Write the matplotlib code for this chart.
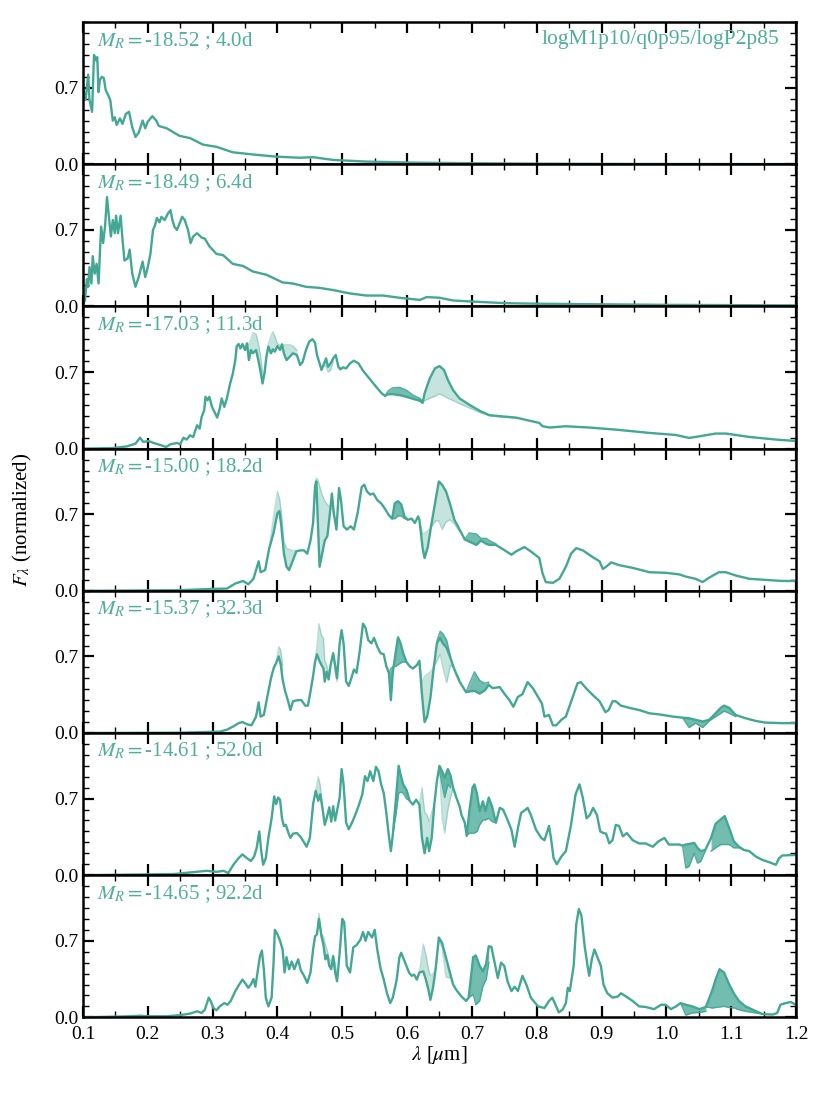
import numpy as np
import matplotlib
matplotlib.use("Agg")
import matplotlib.pyplot as plt
from matplotlib.ticker import MultipleLocator, FormatStrFormatter

plt.rcParams['font.family'] = ['Liberation Serif', 'DejaVu Serif']
plt.rcParams['mathtext.fontset'] = 'stix'

# labels of the seven epochs
mags = ['-18.52', '-18.49', '-17.03', '-15.00', '-15.37', '-14.61', '-14.65']
days = ['4.0', '6.4', '11.3', '18.2', '32.3', '52.0', '92.2']
model_name = 'logM1p10/q0p95/logP2p85'

# main spectra (wavelength in micron, normalized flux)
wl1 = [0.100, 0.104, 0.108, 0.110, 0.114, 0.117, 0.120, 0.122, 0.124, 0.126, 0.129, 0.132, 0.135, 0.139,
       0.142, 0.146, 0.149, 0.152, 0.157, 0.161, 0.166, 0.171, 0.176, 0.181, 0.186, 0.192, 0.196, 0.200,
       0.207, 0.213, 0.217, 0.229, 0.249, 0.265, 0.285, 0.306, 0.331, 0.362, 0.398, 0.434, 0.455, 0.486,
       0.537, 0.614, 0.700, 0.800, 0.900, 1.000, 1.200]
fl1 = [0.69, 0.59, 0.82, 0.59, 0.48, 1.00, 0.95, 0.98, 0.66, 0.77, 0.80, 0.79, 0.68, 0.63,
       0.59, 0.40, 0.43, 0.36, 0.42, 0.37, 0.46, 0.48, 0.34, 0.25, 0.29, 0.40, 0.33, 0.39,
       0.44, 0.40, 0.35, 0.33, 0.26, 0.24, 0.18, 0.16, 0.11, 0.09, 0.07, 0.06, 0.065, 0.04,
       0.025, 0.015, 0.01, 0.006, 0.004, 0.003, 0.002]

wl2 = [0.100, 0.103, 0.106, 0.108, 0.110, 0.113, 0.115, 0.118, 0.121, 0.124, 0.126, 0.128, 0.131, 0.134,
       0.137, 0.140, 0.143, 0.146, 0.149, 0.151, 0.154, 0.158, 0.161, 0.164, 0.169, 0.172, 0.176, 0.181,
       0.186, 0.192, 0.196, 0.200, 0.204, 0.208, 0.211, 0.214, 0.218, 0.221, 0.226, 0.231, 0.235, 0.238,
       0.241, 0.245, 0.249, 0.253, 0.257, 0.262, 0.266, 0.270, 0.276, 0.283, 0.288, 0.295, 0.306, 0.316,
       0.331, 0.347, 0.362, 0.383, 0.408, 0.424, 0.444, 0.465, 0.486, 0.511, 0.537, 0.563, 0.588, 0.620,
       0.630, 0.650, 0.671, 0.701, 0.752, 0.803, 0.896, 0.999, 1.200]
fl2 = [0.02, 0.055, 0.25, 0.18, 0.36, 0.21, 0.46, 0.30, 0.39, 0.21, 0.48, 0.73, 0.58, 0.73,
       1.00, 0.82, 0.64, 0.79, 0.67, 0.83, 0.67, 0.83, 0.61, 0.42, 0.44, 0.52, 0.30, 0.18,
       0.27, 0.41, 0.27, 0.36, 0.48, 0.70, 0.74, 0.81, 0.77, 0.82, 0.79, 0.85, 0.88, 0.79,
       0.73, 0.70, 0.76, 0.82, 0.79, 0.70, 0.58, 0.64, 0.67, 0.63, 0.62, 0.55, 0.48, 0.47,
       0.39, 0.37, 0.32, 0.29, 0.22, 0.21, 0.18, 0.17, 0.15, 0.12, 0.10, 0.10, 0.08, 0.06,
       0.086, 0.08, 0.055, 0.045, 0.03, 0.025, 0.02, 0.015, 0.01]

wl3 = [0.100, 0.147, 0.168, 0.181, 0.188, 0.193, 0.201, 0.209, 0.219, 0.228, 0.235, 0.245, 0.250, 0.255,
       0.260, 0.265, 0.270, 0.276, 0.280, 0.283, 0.287, 0.289, 0.292, 0.295, 0.299, 0.304, 0.307, 0.311,
       0.314, 0.318, 0.322, 0.327, 0.331, 0.335, 0.337, 0.340, 0.343, 0.346, 0.350, 0.353, 0.356, 0.359,
       0.362, 0.367, 0.371, 0.374, 0.377, 0.380, 0.383, 0.386, 0.390, 0.393, 0.396, 0.400, 0.404, 0.407,
       0.410, 0.414, 0.419, 0.424, 0.430, 0.435, 0.439, 0.444, 0.449, 0.454, 0.458, 0.461, 0.465, 0.468,
       0.471, 0.475, 0.478, 0.482, 0.486, 0.490, 0.494, 0.497, 0.501, 0.506, 0.512, 0.518, 0.525, 0.532,
       0.543, 0.553, 0.561, 0.566, 0.571, 0.578, 0.589, 0.599, 0.609, 0.620, 0.624, 0.627, 0.635, 0.643,
       0.650, 0.657, 0.663, 0.671, 0.681, 0.697, 0.712, 0.727, 0.743,
       0.768, 0.804, 0.809, 0.820, 0.845, 0.881, 0.922, 0.974, 1.015, 1.035, 1.045, 1.076, 1.092, 1.128,
       1.169, 1.200]
fl3 = [0.0, 0.006, 0.021, 0.046, 0.10, 0.061, 0.07, 0.052, 0.034, 0.015, 0.04, 0.052, 0.04, 0.10,
       0.083, 0.122, 0.107, 0.214, 0.183, 0.29, 0.352, 0.474, 0.443, 0.474, 0.382, 0.321, 0.284, 0.367,
       0.459, 0.382, 0.459, 0.596, 0.682, 0.81, 0.933, 0.957, 0.917, 0.957, 0.902, 0.963, 0.81, 0.902,
       0.872, 0.902, 0.795, 0.703, 0.596, 0.688, 0.841, 0.933, 0.872, 0.908, 0.887, 0.939, 0.902, 0.954,
       0.872, 0.81, 0.841, 0.872, 0.856, 0.765, 0.795, 0.902, 0.979, 1.0, 0.969, 0.856, 0.78, 0.719,
       0.765, 0.826, 0.749, 0.78, 0.826, 0.856, 0.749, 0.725, 0.743, 0.734, 0.78, 0.804, 0.78, 0.713,
       0.633, 0.56, 0.505, 0.483, 0.498, 0.498, 0.489, 0.474, 0.456, 0.437, 0.419, 0.505, 0.642, 0.734,
       0.755, 0.719, 0.627, 0.535, 0.459, 0.398, 0.346, 0.306, 0.297,
       0.284, 0.235, 0.205, 0.193, 0.205, 0.193, 0.174, 0.144, 0.125, 0.098, 0.107, 0.138, 0.138, 0.107,
       0.083, 0.07]

wl4 = [0.100, 0.250, 0.301, 0.322, 0.335, 0.347, 0.355, 0.363, 0.371, 0.374, 0.381, 0.387, 0.394, 0.400,
       0.403, 0.406, 0.410, 0.414, 0.418, 0.422, 0.429, 0.435, 0.441, 0.446, 0.451, 0.455, 0.458, 0.460,
       0.462, 0.465, 0.469, 0.473, 0.477, 0.481, 0.484, 0.487, 0.491, 0.495, 0.498, 0.502, 0.507, 0.513,
       0.518, 0.524, 0.530, 0.534, 0.538, 0.543, 0.548, 0.554, 0.560, 0.567, 0.572, 0.577, 0.581, 0.586,
       0.591, 0.596, 0.601, 0.607, 0.612, 0.617, 0.619, 0.624, 0.627, 0.632, 0.637, 0.644, 0.649, 0.654,
       0.660, 0.666, 0.673, 0.681,
       0.689, 0.696, 0.707, 0.714, 0.722, 0.727, 0.737, 0.748, 0.761, 0.768, 0.781, 0.791, 0.804, 0.809,
       0.814, 0.825, 0.835, 0.845, 0.853, 0.861, 0.871, 0.886, 0.897, 0.902, 0.907, 0.915, 0.927, 0.948,
       0.974, 0.999, 1.020, 1.030, 1.045, 1.056, 1.066, 1.081, 1.092, 1.107, 1.128, 1.153, 1.179, 1.200]
fl4 = [0.0, 0.006, 0.018, 0.02, 0.067, 0.09, 0.06, 0.11, 0.27, 0.17, 0.19, 0.38, 0.53, 0.71,
       0.73, 0.59, 0.34, 0.22, 0.19, 0.25, 0.36, 0.37, 0.37, 0.34, 0.46, 0.62, 0.95, 1.0,
       0.68, 0.22, 0.34, 0.46, 0.50, 0.71, 0.89, 0.71, 0.56, 0.94, 0.83, 0.59, 0.56, 0.59,
       0.56, 0.72, 0.95, 0.97, 0.91, 0.88, 0.89, 0.83, 0.80, 0.74, 0.69, 0.66, 0.80, 0.82,
       0.79, 0.68, 0.65, 0.66, 0.62, 0.68, 0.65, 0.39, 0.30, 0.40, 0.59, 0.83, 1.0, 0.97,
       0.91, 0.80, 0.65, 0.56,
       0.47, 0.45, 0.42, 0.46, 0.43, 0.42, 0.42, 0.38, 0.33, 0.36, 0.40, 0.36, 0.30, 0.16,
       0.08, 0.073, 0.11, 0.22, 0.34, 0.39, 0.37, 0.31, 0.27, 0.20, 0.22, 0.26, 0.235, 0.21,
       0.17, 0.165, 0.15, 0.13, 0.11, 0.08, 0.12, 0.17, 0.17, 0.14, 0.11, 0.10, 0.09, 0.09]

wl5 = [0.100, 0.250, 0.311, 0.322, 0.332, 0.340, 0.346, 0.353, 0.360, 0.367, 0.371, 0.374, 0.379, 0.384,
       0.390, 0.394, 0.398, 0.402, 0.405, 0.408, 0.412, 0.416, 0.420, 0.424, 0.431, 0.437, 0.443, 0.447,
       0.451, 0.455, 0.458, 0.461, 0.464, 0.468, 0.471, 0.473, 0.476, 0.479, 0.482, 0.486, 0.489, 0.492,
       0.496, 0.499, 0.502, 0.506, 0.510, 0.514, 0.518, 0.522, 0.527, 0.532, 0.536, 0.540, 0.545, 0.549,
       0.554, 0.559, 0.564, 0.568, 0.572, 0.575, 0.578, 0.583, 0.586, 0.590, 0.594, 0.599, 0.604, 0.609,
       0.615, 0.619, 0.623, 0.627, 0.631, 0.636, 0.641, 0.646, 0.651, 0.655, 0.661, 0.667, 0.673, 0.681,
       0.691, 0.696, 0.704, 0.712, 0.720, 0.726, 0.732, 0.743, 0.750, 0.758, 0.764, 0.771, 0.778, 0.786,
       0.794, 0.802, 0.808, 0.812, 0.819, 0.825, 0.830, 0.838, 0.845, 0.855, 0.863, 0.868, 0.876, 0.886,
       0.897, 0.906, 0.911, 0.917, 0.922, 0.930, 0.943, 0.958, 0.974, 0.989, 0.999, 1.010, 1.025, 1.035,
       1.045, 1.056, 1.066, 1.076, 1.084, 1.089, 1.097, 1.107, 1.122, 1.138, 1.153, 1.179, 1.200]
fl5 = [0.0, 0.003, 0.012, 0.03, 0.06, 0.09, 0.10, 0.08, 0.07, 0.15, 0.28, 0.15, 0.165, 0.32,
       0.50, 0.59, 0.64, 0.70, 0.63, 0.49, 0.38, 0.30, 0.21, 0.29, 0.30, 0.30, 0.25, 0.25,
       0.38, 0.52, 0.65, 0.72, 0.67, 0.62, 0.59, 0.47, 0.56, 0.49, 0.62, 0.73, 0.62, 0.50,
       0.82, 0.94, 0.82, 0.47, 0.43, 0.50, 0.58, 0.55, 0.75, 1.00, 0.96, 0.85, 0.82, 0.87,
       0.79, 0.73, 0.72, 0.61, 0.55, 0.30, 0.56, 0.76, 0.875, 0.82, 0.73, 0.65, 0.61, 0.59,
       0.62, 0.66, 0.35, 0.10, 0.15, 0.32, 0.59, 0.82, 0.87, 0.82, 0.78, 0.685, 0.58, 0.47,
       0.373, 0.38, 0.385, 0.36, 0.39, 0.44, 0.41, 0.42, 0.36, 0.30, 0.24, 0.33, 0.355, 0.465,
       0.41, 0.33, 0.27, 0.15, 0.165, 0.07, 0.07, 0.12, 0.15, 0.32, 0.455, 0.465, 0.41, 0.35,
       0.29, 0.19, 0.21, 0.29, 0.29, 0.25, 0.23, 0.21, 0.18, 0.17, 0.16, 0.15, 0.14, 0.135,
       0.12, 0.105, 0.12, 0.18, 0.23, 0.25, 0.23, 0.165, 0.135, 0.11, 0.095, 0.09, 0.09]

wl6 = [0.100, 0.240, 0.291, 0.306, 0.317, 0.324, 0.332, 0.340, 0.346, 0.353, 0.359, 0.364, 0.368, 0.372,
       0.375, 0.378, 0.382, 0.386, 0.391, 0.395, 0.398, 0.401, 0.404, 0.407, 0.410, 0.413, 0.417, 0.420,
       0.424, 0.430, 0.435, 0.440, 0.445, 0.450, 0.455, 0.459, 0.463, 0.466, 0.470, 0.473, 0.476, 0.480,
       0.483, 0.486, 0.489, 0.492, 0.496, 0.499, 0.502, 0.506, 0.510, 0.515, 0.520, 0.525, 0.531, 0.535,
       0.539, 0.543, 0.548, 0.552, 0.556, 0.560, 0.564, 0.568, 0.572, 0.575, 0.578, 0.583, 0.587, 0.590,
       0.594, 0.599, 0.604, 0.609, 0.614, 0.619, 0.623, 0.627, 0.631, 0.634, 0.638, 0.642, 0.646, 0.650,
       0.654, 0.658, 0.663, 0.667, 0.671, 0.676, 0.681,
       0.684, 0.689, 0.692, 0.696, 0.701, 0.704, 0.708, 0.712, 0.717, 0.721, 0.726, 0.731, 0.737, 0.743,
       0.748, 0.754, 0.761, 0.766, 0.771, 0.776, 0.781, 0.786, 0.791, 0.799, 0.807, 0.812, 0.819, 0.822,
       0.826, 0.831, 0.838, 0.845, 0.853, 0.860, 0.866, 0.871, 0.877, 0.882, 0.887, 0.893, 0.898, 0.903,
       0.907, 0.912, 0.917, 0.922, 0.927, 0.933, 0.939, 0.948, 0.958, 0.968, 0.979, 0.988, 0.997, 1.004,
       1.020, 1.025, 1.030, 1.035, 1.043, 1.048, 1.053, 1.060, 1.069, 1.076, 1.084, 1.090, 1.097, 1.104,
       1.112, 1.120, 1.128, 1.138, 1.148, 1.158, 1.169, 1.174, 1.179, 1.200]
fl6 = [0.0, 0.01, 0.04, 0.03, 0.04, 0.018, 0.095, 0.155, 0.19, 0.155, 0.13, 0.17, 0.25, 0.40,
       0.22, 0.095, 0.155, 0.34, 0.52, 0.72, 0.65, 0.71, 0.69, 0.52, 0.45, 0.46, 0.385, 0.34,
       0.38, 0.385, 0.355, 0.31, 0.26, 0.34, 0.65, 0.77, 0.68, 0.74, 0.59, 0.46, 0.52, 0.62,
       0.49, 0.63, 0.50, 0.59, 0.71, 0.97, 0.83, 0.48, 0.42, 0.48, 0.55, 0.63, 0.74, 0.905,
       0.86, 0.95, 0.86, 0.99, 0.95, 0.83, 0.75, 0.57, 0.355, 0.22, 0.37, 0.71, 1.0, 0.92,
       0.83, 0.78, 0.68, 0.645, 0.69, 0.645, 0.34, 0.20, 0.34, 0.22, 0.34, 0.645, 0.86, 1.0,
       0.95, 0.89, 0.97, 0.91, 0.80, 0.71, 0.63,
       0.55, 0.48, 0.36, 0.58, 0.80, 0.83, 0.74, 0.585, 0.675, 0.585, 0.71, 0.63, 0.48, 0.615,
       0.60, 0.52, 0.415, 0.26, 0.43, 0.57, 0.59, 0.615, 0.55, 0.415, 0.34, 0.32, 0.45, 0.34,
       0.155, 0.10, 0.17, 0.22, 0.46, 0.74, 0.83, 0.71, 0.52, 0.55, 0.615, 0.55, 0.40, 0.385,
       0.38, 0.29, 0.32, 0.46, 0.45, 0.355, 0.385, 0.32, 0.29, 0.29, 0.26, 0.31, 0.34, 0.28,
       0.28, 0.27, 0.28, 0.285, 0.295, 0.25, 0.22, 0.23, 0.34, 0.47, 0.51, 0.54, 0.43, 0.31,
       0.26, 0.23, 0.22, 0.17, 0.14, 0.12, 0.095, 0.155, 0.18, 0.185]

wl7 = [0.100, 0.173, 0.188, 0.199, 0.229, 0.250, 0.265, 0.276, 0.283, 0.288, 0.294, 0.297, 0.301, 0.306,
       0.311, 0.318, 0.323, 0.328, 0.335, 0.341, 0.346, 0.350, 0.355, 0.359, 0.363, 0.366, 0.370, 0.373,
       0.376, 0.379, 0.382, 0.386, 0.391, 0.394, 0.396, 0.400, 0.404, 0.408, 0.411, 0.414, 0.418, 0.422,
       0.426, 0.432, 0.436, 0.441, 0.446, 0.451, 0.455, 0.458, 0.461, 0.464, 0.468, 0.471, 0.474, 0.477,
       0.480, 0.483, 0.486, 0.489, 0.492, 0.496, 0.500, 0.503, 0.507, 0.512, 0.517, 0.522, 0.528, 0.532,
       0.536, 0.540, 0.546, 0.550, 0.554, 0.559, 0.564, 0.569, 0.574, 0.578, 0.584, 0.588, 0.591, 0.595,
       0.599, 0.603, 0.607, 0.611, 0.615, 0.619, 0.625, 0.629, 0.633, 0.636, 0.640, 0.644, 0.649, 0.654,
       0.660, 0.666, 0.671, 0.676, 0.684, 0.691,
       0.695, 0.702, 0.706, 0.712, 0.717, 0.722, 0.726, 0.730, 0.735, 0.740, 0.745, 0.750, 0.755, 0.761,
       0.766, 0.771, 0.778, 0.784, 0.791, 0.802, 0.812, 0.819, 0.824, 0.829, 0.834, 0.840, 0.845, 0.848,
       0.851, 0.857, 0.861, 0.865, 0.869, 0.874, 0.879, 0.881, 0.885, 0.889, 0.894, 0.899, 0.903, 0.909,
       0.917, 0.925, 0.930, 0.938, 0.948, 0.958, 0.968, 0.981, 0.992, 0.999, 1.007, 1.015, 1.022, 1.030,
       1.040, 1.051, 1.061, 1.071, 1.076, 1.082, 1.089, 1.097, 1.105, 1.112, 1.122, 1.133, 1.148, 1.164,
       1.171, 1.176, 1.184, 1.192, 1.200]
fl7 = [0.0, 0.01, 0.015, 0.01, 0.01, 0.02, 0.034, 0.055, 0.04, 0.07, 0.18, 0.15, 0.085, 0.065,
       0.10, 0.13, 0.115, 0.15, 0.24, 0.30, 0.345, 0.315, 0.27, 0.30, 0.35, 0.28, 0.44, 0.56,
       0.61, 0.44, 0.18, 0.10, 0.18, 0.50, 0.80, 0.76, 0.70, 0.62, 0.41, 0.55, 0.44, 0.51,
       0.44, 0.53, 0.43, 0.38, 0.315, 0.41, 0.62, 0.74, 0.76, 0.90, 0.74, 0.66, 0.53, 0.57,
       0.47, 0.44, 0.56, 0.41, 0.33, 0.59, 0.90, 0.87, 0.47, 0.41, 0.64, 0.66, 0.71, 0.78,
       0.70, 0.78, 0.73, 0.80, 0.62, 0.45, 0.345, 0.22, 0.13, 0.18, 0.345, 0.545, 0.59, 0.53,
       0.47, 0.41, 0.38, 0.39, 0.345, 0.41, 0.42, 0.345, 0.25, 0.16, 0.27, 0.44, 0.73, 0.68,
       0.545, 0.41, 0.30, 0.25, 0.19, 0.15,
       0.18, 0.55, 0.565, 0.47, 0.42, 0.49, 0.65, 0.645, 0.50, 0.36, 0.50, 0.47, 0.33, 0.24,
       0.28, 0.24, 0.38, 0.30, 0.18, 0.10, 0.085, 0.15, 0.18, 0.115, 0.045, 0.07, 0.13, 0.27,
       0.24, 0.47, 0.85, 0.99, 0.93, 0.65, 0.45, 0.38, 0.53, 0.62, 0.545, 0.47, 0.30, 0.22,
       0.18, 0.19, 0.22, 0.19, 0.15, 0.10, 0.095, 0.075, 0.115, 0.115, 0.075, 0.10, 0.13, 0.115,
       0.10, 0.075, 0.095, 0.25, 0.345, 0.44, 0.41, 0.30, 0.21, 0.15, 0.10, 0.07, 0.03, 0.025,
       0.04, 0.115, 0.13, 0.14, 0.115]

# other viewing angles: (start wavelength on the main grid, flux on the following grid points)
light3 = [(0.350, [0.902, 0.963, 0.95, 1.0, 1.06, 1.05, 0.95, 0.85, 0.70, 0.69]),
          (0.383, [0.841, 0.96, 1.03, 1.07, 1.03, 0.96, 0.95]),
          (0.407, [0.954, 0.95, 0.95, 0.95, 0.94, 0.90]),
          (0.471, [0.765, 0.75, 0.70, 0.72, 0.80]),
          (0.624, [0.419, 0.44, 0.46, 0.48, 0.50, 0.48, 0.46, 0.44, 0.41, 0.37, 0.33, 0.30, 0.29, 0.28])]
dark3 = [(0.566, [0.483, 0.53, 0.557, 0.56, 0.535, 0.49, 0.46, 0.43])]

light4 = [(0.387, [0.38, 0.68, 0.91, 0.85, 0.72, 0.45, 0.39, 0.38, 0.37, 0.37]),
          (0.455, [0.62, 1.0, 1.03, 1.02, 0.96, 0.88, 0.82, 0.79, 0.77, 0.76, 0.68, 0.62]),
          (0.619, [0.65, 0.52, 0.53, 0.55, 0.58, 0.64, 0.64, 0.56, 0.63, 0.65, 0.61, 0.54])]
dark4 = [(0.577, [0.66, 0.66, 0.685, 0.685, 0.66, 0.65]),
         (0.689, [0.47, 0.53, 0.52, 0.48, 0.48, 0.46, 0.43])]

light5 = [(0.398, [0.64, 0.79, 0.76, 0.62]),
          (0.458, [0.65, 0.80, 1.0, 0.89, 0.87, 0.66, 0.62, 0.55, 0.62, 0.73, 0.55, 0.47]),
          (0.619, [0.66, 0.47, 0.52, 0.54, 0.56, 0.60, 0.66, 0.72, 0.60, 0.46, 0.62, 0.59, 0.49])]
dark5 = [(0.572, [0.55, 0.59, 0.605, 0.61, 0.625, 0.64, 0.65, 0.65]),
         (0.646, [0.84, 0.93, 0.91, 0.85, 0.70]),
         (0.691, [0.373, 0.45, 0.56, 0.48, 0.455, 0.465]),
         (1.025, [0.14, 0.05, 0.09, 0.05, 0.11]),
         (1.066, [0.11, 0.15, 0.18, 0.20, 0.18, 0.15])]

light6 = [(0.459, [0.77, 0.90, 0.82, 0.60]),
          (0.619, [0.645, 0.80, 0.58, 0.55, 0.49, 0.58, 0.645]),
          (0.650, [1.0, 0.52, 0.385, 0.60, 0.71, 0.80])]
dark6 = [(0.578, [0.37, 0.56, 0.75, 0.76, 0.75, 0.70, 0.68]),
         (0.650, [0.95, 0.83, 0.71, 0.83, 0.80]),
         (0.692, [0.36, 0.385, 0.385, 0.385, 0.40, 0.46, 0.505, 0.505, 0.52, 0.49, 0.48]),
         (1.025, [0.27, 0.065, 0.08, 0.20, 0.11, 0.125, 0.22]),
         (1.069, [0.22, 0.25, 0.28, 0.28, 0.28, 0.25, 0.25, 0.23])]

light7 = [(0.461, [0.76, 0.95, 0.76, 0.74, 0.66, 0.61, 0.53, 0.52, 0.56, 0.50, 0.37]),
          (0.619, [0.41, 0.67, 0.575, 0.44, 0.38, 0.40, 0.43, 0.70, 0.64, 0.37, 0.36])]
dark7 = [(0.695, [0.18, 0.21, 0.115, 0.15, 0.285, 0.345, 0.50]),
         (1.022, [0.13, 0.02, 0.04, 0.045, 0.055]),
         (1.061, [0.095, 0.085, 0.09, 0.095, 0.10, 0.09, 0.085, 0.07, 0.055, 0.045, 0.03])]

spectra = [(wl1, fl1, [], []), (wl2, fl2, [], []), (wl3, fl3, light3, dark3),
           (wl4, fl4, light4, dark4), (wl5, fl5, light5, dark5),
           (wl6, fl6, light6, dark6), (wl7, fl7, light7, dark7)]

col = '#43a794'
txtcol = '#4fae9c'


def add_band(ax, wl, fl, segs, alpha, edge_alpha):
    for start, other in segs:
        i0 = int(np.argmin(np.abs(wl - start)))
        n = len(other)
        x = wl[i0:i0 + n]
        ax.fill_between(x, fl[i0:i0 + n], other, color=col, alpha=alpha, lw=0)
        ax.plot(x, other, color=col, lw=1.0, alpha=edge_alpha)


fig, axes = plt.subplots(7, 1, sharex=True, figsize=(8.3, 11.07), dpi=100)
fig.subplots_adjust(left=0.1, right=0.959, top=0.98, bottom=0.081, hspace=0)

for k, ax in enumerate(axes):
    wl, fl, light, dark = spectra[k]
    wl = np.array(wl)
    fl = np.array(fl)
    add_band(ax, wl, fl, light, 0.3, 0.35)
    add_band(ax, wl, fl, dark, 0.75, 0.9)
    ax.plot(wl, fl, color=col, lw=1.7)

    ax.set_xlim(0.1, 1.2)
    ax.set_ylim(0, 1.3)
    ax.yaxis.set_major_locator(MultipleLocator(0.7))
    ax.yaxis.set_minor_locator(MultipleLocator(0.1))
    ax.xaxis.set_major_locator(MultipleLocator(0.1))
    ax.xaxis.set_minor_locator(MultipleLocator(0.05))
    ax.yaxis.set_major_formatter(FormatStrFormatter('%.1f'))
    ax.xaxis.set_major_formatter(FormatStrFormatter('%.1f'))
    ax.tick_params(which='both', direction='in', top=True, right=True, labelsize=14)
    ax.tick_params(which='major', length=8, width=1.6)
    ax.tick_params(which='minor', length=4, width=1.0)
    ax.tick_params(axis='y', which='major', pad=3)
    ax.tick_params(axis='x', which='major', pad=6)
    for sp in ax.spines.values():
        sp.set_linewidth(1.8)

    ax.text(0.02, 0.945, r'$M_R = $' + mags[k] + ' ; ' + days[k] + 'd',
            transform=ax.transAxes, ha='left', va='top', color=txtcol, fontsize=15)

axes[0].text(0.976, 0.945, model_name, transform=axes[0].transAxes,
             ha='right', va='top', color=txtcol, fontsize=15.5)

axes[-1].set_xlabel(r'$\lambda$ [$\mu$m]', fontsize=15, labelpad=1)
fig.text(0.027, 0.53, r'$F_\lambda$ (normalized)', rotation=90,
         ha='center', va='center', fontsize=15)

fig.savefig('out.png', dpi=100)
